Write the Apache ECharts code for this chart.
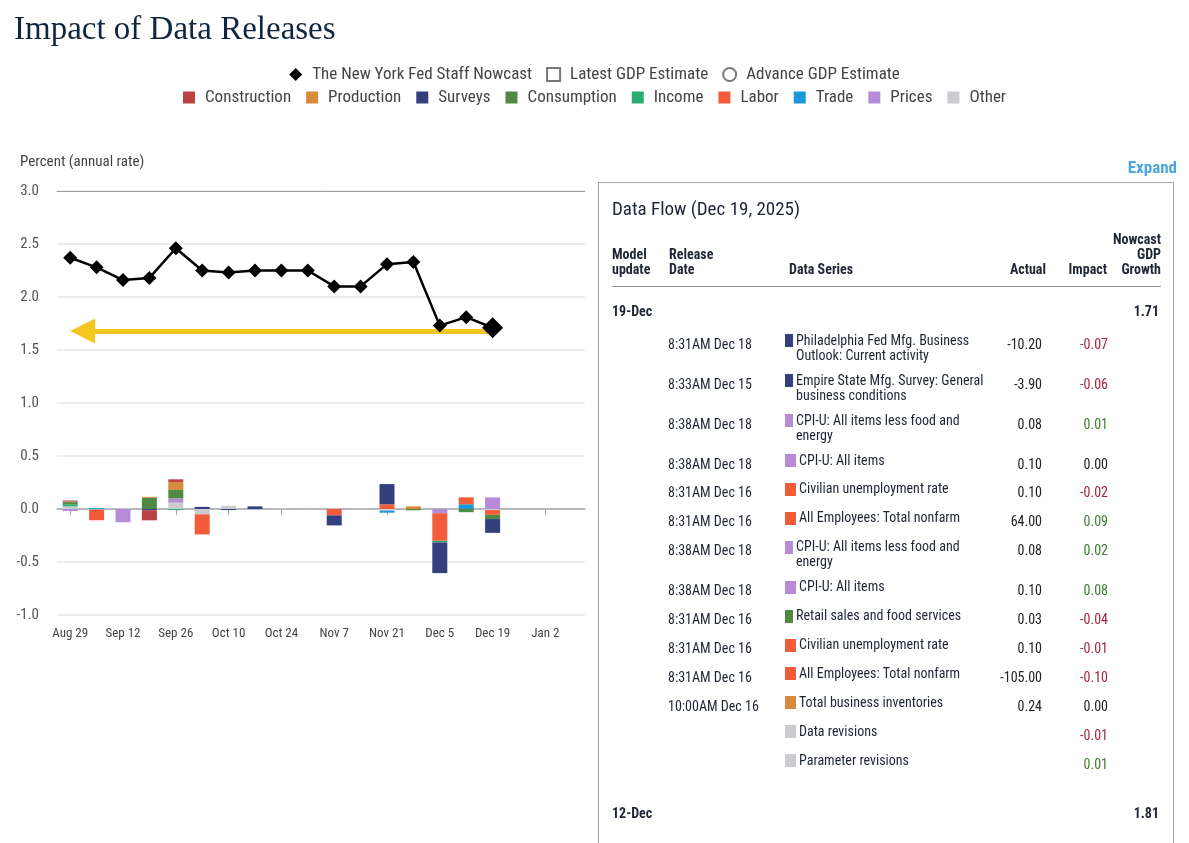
<!DOCTYPE html>
<html>
<head>
<meta charset="utf-8">
<script src="https://cdn.jsdelivr.net/npm/echarts@6/dist/echarts.min.js"></script>
<style>
html,body{margin:0;padding:0;background:#fff;}
#wrap{position:relative;width:1189px;height:843px;overflow:hidden;}
#chart{position:absolute;left:0;top:0;width:1189px;height:843px;}
#layer{position:absolute;left:0;top:0;width:1189px;height:843px;pointer-events:none;
  font-family:'Roboto Condensed','Liberation Sans Narrow','DejaVu Sans Condensed',sans-serif;color:#1e2533;}
#box{position:absolute;left:598px;top:182px;width:576px;height:720px;border:1px solid #a3a8ad;box-sizing:border-box;}
.t{position:absolute;white-space:nowrap;line-height:15px;font-size:14px;}
.b{font-weight:bold;}
</style>
</head>
<body>
<div id="wrap">
  <div id="chart"></div>
  <div id="layer"><div id="box"></div></div>
</div>
<script>
// ---------- chart data ----------
const weeks = ['Aug 29','Sep 5','Sep 12','Sep 19','Sep 26','Oct 3','Oct 10','Oct 17','Oct 24','Oct 31',
               'Nov 7','Nov 14','Nov 21','Nov 28','Dec 5','Dec 12','Dec 19','Dec 26','Jan 2','Jan 9'];
const nowcast = [2.37,2.28,2.16,2.18,2.46,2.25,2.23,2.25,2.25,2.25,2.10,2.10,2.31,2.33,1.73,1.81,1.71];
const yTicks = [-1.0,-0.5,0.0,0.5,1.0,1.5,2.0,2.5,3.0];
const arrowLevel = 1.68;

const construction = [0.01,null,null,-0.095,0.025,null,null,null,null,null,null,null,null,null,null,null,null];
const production   = [0.005,null,null,0.01,0.075,null,null,null,null,null,null,null,null,0.025,null,null,null];
const surveys      = [null,null,null,-0.012,null,0.02,-0.01,0.025,null,null,-0.095,null,0.19,null,-0.29,null,-0.13];
const consumption  = [0.02,null,null,0.105,0.08,null,null,null,null,null,null,null,null,-0.012,null,-0.03,-0.04];
const income       = [0.02,null,null,null,-0.01,null,null,null,null,null,null,null,null,null,-0.015,null,null];
const labor        = [null,-0.10,null,null,null,-0.19,null,null,null,null,-0.06,null,0.045,null,-0.26,0.065,-0.045];
const trade        = [null,0.01,null,null,null,null,null,null,null,null,null,null,-0.02,null,null,0.045,null];
const prices       = [-0.02,null,-0.125,null,0.04,null,null,null,null,null,null,null,null,null,-0.04,null,0.11];
const other        = [0.025,-0.006,0.004,null,0.06,-0.05,0.03,null,0.004,-0.004,null,0.003,-0.015,null,null,null,-0.01];

const sectorNames  = ['Construction','Production','Surveys','Consumption','Income','Labor','Trade','Prices','Other'];
const sectorColors = ['#bb4143','#d68b3c','#343f7e','#4f8a45','#2aac73','#f25c3b','#1b98d6','#b68bd8','#cbcbd0'];
const sectorData   = [construction,production,surveys,consumption,income,labor,trade,prices,other];

// ---------- table data ----------
const flowTitle = 'Data Flow (Dec 19, 2025)';
const updateLatest = '19-Dec', nowcastLatest = '1.71';
const updatePrev = '12-Dec', nowcastPrev = '1.81';
const relTimes = ['8:31AM Dec 18','8:33AM Dec 15','8:38AM Dec 18','8:38AM Dec 18','8:31AM Dec 16','8:31AM Dec 16',
                  '8:38AM Dec 18','8:38AM Dec 18','8:31AM Dec 16','8:31AM Dec 16','8:31AM Dec 16','10:00AM Dec 16','',''];
const relSeries = ['Philadelphia Fed Mfg. Business\nOutlook: Current activity','Empire State Mfg. Survey: General\nbusiness conditions',
                   'CPI-U: All items less food and\nenergy','CPI-U: All items','Civilian unemployment rate','All Employees: Total nonfarm',
                   'CPI-U: All items less food and\nenergy','CPI-U: All items','Retail sales and food services','Civilian unemployment rate',
                   'All Employees: Total nonfarm','Total business inventories','Data revisions','Parameter revisions'];
const relSector = ['Surveys','Surveys','Prices','Prices','Labor','Labor','Prices','Prices','Consumption','Labor','Labor','Production','Other','Other'];
const relActual = ['-10.20','-3.90','0.08','0.10','0.10','64.00','0.08','0.10','0.03','0.10','-105.00','0.24','',''];
const relImpact = [-0.07,-0.06,0.01,0.00,-0.02,0.09,0.02,0.08,-0.04,-0.01,-0.10,0.00,-0.01,0.01];

// ---------- chart ----------
const FONT = "'Roboto Condensed','Liberation Sans Narrow','DejaVu Sans Condensed',sans-serif";
const YELLOW = '#f6c620';
const chart = echarts.init(document.getElementById('chart'), null, {renderer:'canvas'});

const series = [];
// stacking order: nearest to zero first
for (let k = sectorNames.length - 1; k >= 0; k--) {
  series.push({
    name: sectorNames[k], type: 'bar', stack: 'impact', barWidth: 15,
    itemStyle: {color: sectorColors[k]}, data: sectorData[k], z: 2, silent: true
  });
}
series.push({
  name: 'arrow', type: 'line', data: [], z: 3, silent: true, xAxisIndex: 1,
  markLine: {
    silent: true, animation: false,
    symbol: ['none', 'path://M5,0L10,10L0,10Z'], symbolSize: 25,
    label: {show: false},
    lineStyle: {color: YELLOW, width: 5, type: 'solid', opacity: 1},
    emphasis: {disabled: true},
    data: [[{coord: [weeks.indexOf('Dec 19'), arrowLevel]}, {coord: [0.47, arrowLevel]}]]
  }
});
series.push({
  name: 'The New York Fed Staff Nowcast', type: 'line', z: 5,
  symbol: 'diamond', symbolSize: 14,
  lineStyle: {color: '#000', width: 2.5}, itemStyle: {color: '#000'},
  data: nowcast.map((v, i) => i === nowcast.length - 1 ? {value: v, symbolSize: 21} : v)
});
series.push({name: 'Latest GDP Estimate', type: 'scatter', data: []});
series.push({name: 'Advance GDP Estimate', type: 'scatter', data: []});

const option = {
  animation: false,
  title: {
    text: 'Impact of Data Releases', left: 9, top: 9,
    textStyle: {fontFamily: "'Liberation Serif','DejaVu Serif',serif", fontSize: 33, fontWeight: 'normal', color: '#10263f'}
  },
  legend: [
    {
      top: 61, left: 'center', selectedMode: false, itemGap: 14, itemWidth: 13, itemHeight: 13,
      textStyle: {fontFamily: FONT, fontSize: 17, color: '#444', padding: [0, 0, 0, 5]},
      data: [
        {name: 'The New York Fed Staff Nowcast', icon: 'diamond', itemStyle: {color: '#000', borderWidth: 0}},
        {name: 'Latest GDP Estimate', icon: 'rect', itemStyle: {color: '#fff', borderColor: '#555', borderWidth: 2}},
        {name: 'Advance GDP Estimate', icon: 'circle', itemStyle: {color: '#fff', borderColor: '#555', borderWidth: 2}}
      ]
    },
    {
      top: 84, left: 'center', selectedMode: false, itemGap: 15, itemWidth: 12, itemHeight: 12,
      textStyle: {fontFamily: FONT, fontSize: 17, color: '#444', padding: [0, 0, 0, 5]},
      data: sectorNames.map(n => ({name: n, icon: 'rect'}))
    }
  ],
  graphic: [
    {type: 'text', left: 20, top: 155, silent: true,
     style: {text: 'Percent (annual rate)', font: "15px " + FONT, fill: '#444'}}
  ],
  grid: {left: 57, top: 191, width: 528, height: 424, containLabel: false},
  xAxis: [
    {
      type: 'category', data: weeks, boundaryGap: true, position: 'bottom',
      axisLine: {show: true, lineStyle: {color: '#a2a8ab', width: 1.5}},
      axisTick: {show: true, alignWithLabel: true, interval: 1, length: 6, lineStyle: {color: '#a2a8ab'}},
      axisLabel: {interval: 1, margin: 12, fontFamily: FONT, fontSize: 13, color: '#444'},
      splitLine: {show: false}
    },
    {
      type: 'value', min: -0.5, max: weeks.length - 0.5, position: 'top',
      axisLine: {show: true, onZero: false, lineStyle: {color: '#9aa4a8', width: 1}},
      axisTick: {show: false}, axisLabel: {show: false}, splitLine: {show: false}
    }
  ],
  yAxis: {
    type: 'value', min: yTicks[0], max: yTicks[yTicks.length - 1], interval: 0.5,
    axisLine: {show: false}, axisTick: {show: false},
    axisLabel: {margin: 18, fontFamily: FONT, fontSize: 15, color: '#555', formatter: v => v.toFixed(1)},
    splitLine: {lineStyle: {color: '#e6e6e6', width: 1.5}}
  },
  series: series
};
chart.setOption(option);

// ---------- table ----------
const layer = document.getElementById('layer');
function addText(txt, x, cy, opts) {
  opts = opts || {};
  const d = document.createElement('div');
  d.className = 't' + (opts.bold ? ' b' : '');
  d.textContent = txt;
  if (opts.size) { d.style.fontSize = opts.size + 'px'; d.style.lineHeight = (opts.size + 2) + 'px'; }
  const lh = opts.size ? opts.size + 2 : 15;
  d.style.top = (cy - lh / 2) + 'px';
  if (opts.right) { d.style.right = (1189 - x) + 'px'; d.style.textAlign = 'right'; }
  else d.style.left = x + 'px';
  if (opts.color) d.style.color = opts.color;
  if (opts.ws) d.style.whiteSpace = opts.ws;
  layer.appendChild(d);
  return d;
}
addText('Expand', 1177, 167, {right: true, bold: true, size: 17, color: '#4ba6de'});
addText(flowTitle, 612, 208, {size: 19});
addText('Model', 612, 254, {bold: true}); addText('update', 612, 269, {bold: true});
addText('Release', 669, 254, {bold: true}); addText('Date', 669, 269, {bold: true});
addText('Data Series', 789, 269, {bold: true});
addText('Actual', 1046, 269, {bold: true, right: true});
addText('Impact', 1107, 269, {bold: true, right: true});
addText('Nowcast', 1161, 239, {bold: true, right: true});
addText('GDP', 1161, 254, {bold: true, right: true});
addText('Growth', 1161, 269, {bold: true, right: true});
const rule = document.createElement('div');
rule.style.cssText = 'position:absolute;left:612px;top:286px;width:549px;height:1px;background:#8f959a;';
layer.appendChild(rule);
addText(updateLatest, 612, 311, {bold: true});
addText(nowcastLatest, 1159, 311, {bold: true, right: true});

let y0 = 340;
for (let i = 0; i < relSeries.length; i++) {
  const lines = relSeries[i].split('\n');
  if (relTimes[i]) addText(relTimes[i], 668, y0 + 4);
  const sq = document.createElement('div');
  const col = sectorColors[sectorNames.indexOf(relSector[i])];
  const narrow = lines[0].length > 29;
  sq.style.cssText = 'position:absolute;left:785px;top:' + (y0 - 6) + 'px;width:' + (narrow ? 8 : 11) + 'px;height:13px;background:' + col + ';';
  layer.appendChild(sq);
  const tx = addText(relSeries[i], narrow ? 796 : 799, y0, {ws: 'pre'});
  tx.style.top = (y0 - 7.5) + 'px';
  if (relActual[i]) addText(relActual[i], 1042, y0 + 4, {right: true, color: '#222'});
  const v = relImpact[i];
  const c = v < 0 ? '#a1263c' : (v > 0 ? '#3e7c30' : '#222');
  addText(v.toFixed(2), 1108, y0 + 4, {right: true, color: c});
  y0 += lines.length > 1 ? 40 : 28.9;
}
addText(updatePrev, 612, 813, {bold: true});
addText(nowcastPrev, 1159, 813, {bold: true, right: true});
</script>
</body>
</html>
